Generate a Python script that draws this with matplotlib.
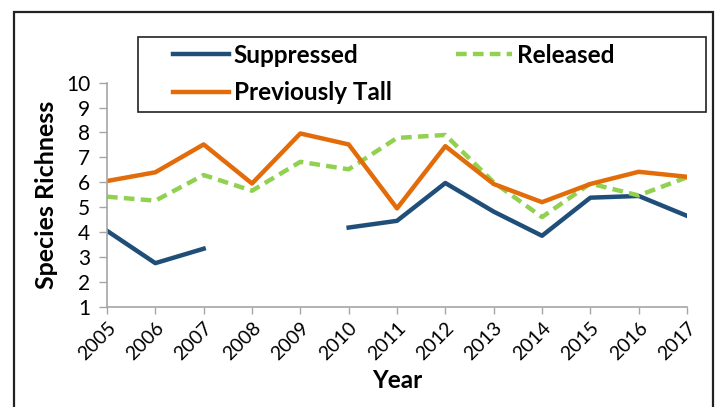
import numpy as np
import matplotlib.pyplot as plt
from matplotlib.patches import Rectangle

years = list(range(2005, 2018))
suppressed = [4.05, 2.75, 3.33, np.nan, np.nan, 4.18, 4.45, 5.97, 4.82, 3.85, 5.38, 5.45, 4.65]
released = [5.42, 5.26, 6.29, 5.66, 6.82, 6.52, 7.78, 7.9, 6.0, 4.6, 5.95, 5.47, 6.2]
prev_tall = [6.05, 6.4, 7.52, 5.95, 7.96, 7.52, 4.95, 7.45, 5.93, 5.2, 5.93, 6.42, 6.22]

plt.rcParams['font.family'] = ['Lato', 'DejaVu Sans']

W, H = 718, 407
fig = plt.figure(figsize=(W / 100, H / 100), dpi=100)
ax = fig.add_axes([107 / W, 1 - 306.7 / H, 580 / W, 224 / H])

l1, = ax.plot(years, suppressed, color='#1f4e79', lw=3.2, label='Suppressed')
l2, = ax.plot(years, released, color='#92d050', lw=3.2, ls=(0, (2.4, 1.4)), label='Released')
l3, = ax.plot(years, prev_tall, color='#e36c0a', lw=3.2, label='Previously Tall')

ax.set_xlim(2005, 2017)
ax.set_ylim(1, 10)
ax.set_xticks(years)
ax.set_xticklabels([str(y) for y in years], rotation=45, ha='right', rotation_mode='anchor')
ax.set_yticks(range(1, 11))
ax.tick_params(axis='x', labelsize=14, color='#a6a6a6', length=5, width=1, pad=4)
ax.tick_params(axis='y', labelsize=15, color='#a6a6a6', length=6, width=1, pad=6)
for side in ['top', 'right']:
    ax.spines[side].set_visible(False)
for side in ['left', 'bottom']:
    ax.spines[side].set_color('#a6a6a6')
    ax.spines[side].set_linewidth(1.2)

ax.set_xlabel('Year', fontsize=17.5, fontweight='bold', labelpad=4)
ax.set_ylabel('Species Richness', fontsize=18, fontweight='bold', labelpad=6)

# legend: entries without frame, frame drawn as a box
fig.legend([l1, l3, l2], ['Suppressed', 'Previously Tall', 'Released'],
           loc='upper left', bbox_to_anchor=(173 / W, 1 - 44 / H),
           ncol=2, frameon=False, prop={'weight': 'bold', 'size': 17.5},
           handlelength=2.3, handletextpad=0.2, borderpad=0, labelspacing=0.58,
           columnspacing=2.65, borderaxespad=0)
fig.patches.append(Rectangle((138 / W, 1 - 112 / H), 568 / W, 75 / H,
                             transform=fig.transFigure, fill=False,
                             edgecolor='#222222', lw=1.2))

fig.patches.append(Rectangle((14 / W, -0.05), 699 / W, 1.05 - 11.7 / H,
                             transform=fig.transFigure, fill=False,
                             edgecolor='#222222', lw=1.6, clip_on=False))

fig.savefig('out.png', dpi=100)
